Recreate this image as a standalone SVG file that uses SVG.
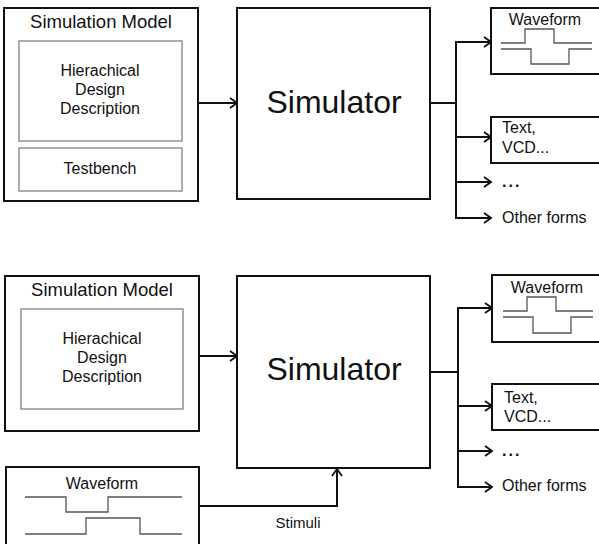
<svg xmlns="http://www.w3.org/2000/svg" width="599" height="544" viewBox="0 0 599 544">
<defs>
<style>
.box{fill:#fff;stroke:#111;stroke-width:2}
.inner{fill:#fff;stroke:#777;stroke-width:1.2}
.wire{fill:none;stroke:#111;stroke-width:2}
.wave{fill:none;stroke:#555;stroke-width:1.3}
text{font-family:"Liberation Sans",Arial,sans-serif;fill:#111}
.t18{font-size:18.5px}
.t16{font-size:16px}
.t15{font-size:15px}
.big{font-size:32px}
.mid{text-anchor:middle}
.dots{font-size:16px;font-weight:bold;letter-spacing:2px}
</style>
<marker id="arr" markerUnits="userSpaceOnUse" markerWidth="9" markerHeight="13" viewBox="0 0 9 13" refX="8" refY="6.5" orient="auto">
<path d="M1,1.5 L8,6.5 L1,11.5" fill="none" stroke="#111" stroke-width="1.8"/>
</marker>
</defs>
<rect width="599" height="544" fill="#fff"/>

<!-- TOP DIAGRAM -->
<g id="simmodel1">
<rect class="box" x="4" y="8" width="194" height="193"/>
<text class="t18 mid" x="101" y="28">Simulation Model</text>
</g>
<g id="hdd1">
<rect class="inner" x="19" y="41" width="163" height="100"/>
<text class="t16 mid" x="100" y="76">Hierachical</text>
<text class="t16 mid" x="100" y="95">Design</text>
<text class="t16 mid" x="100" y="114">Description</text>
</g>
<g id="testbench1">
<rect class="inner" x="19" y="148" width="163" height="43"/>
<text class="t16 mid" x="100" y="174">Testbench</text>
</g>
<g id="simulator1">
<rect class="box" x="237" y="8" width="193" height="191"/>
<text class="big mid" x="334" y="113">Simulator</text>
</g>
<g id="waveout1">
<rect class="box" x="491" y="8" width="112" height="66"/>
<text class="t16 mid" x="545" y="25">Waveform</text>
<polyline class="wave" points="501,43 525,43 525,29 554,29 554,43 592,43"/>
<polyline class="wave" points="501,49 531,49 531,64 569,64 569,49 592,49"/>
</g>
<g id="textout1">
<rect class="box" x="491" y="117" width="112" height="46"/>
<text class="t16" x="502" y="133">Text,</text>
<text class="t16" x="502" y="153">VCD...</text>
</g>
<g id="dots1">
<text class="dots" x="502" y="187">...</text>
</g>
<g id="other1">
<text class="t16" x="502" y="223">Other forms</text>
</g>

<!-- BOTTOM DIAGRAM -->
<g id="simmodel2">
<rect class="box" x="5" y="276" width="194" height="155"/>
<text class="t18 mid" x="102" y="296">Simulation Model</text>
</g>
<g id="hdd2">
<rect class="inner" x="21" y="309" width="162" height="100"/>
<text class="t16 mid" x="102" y="344">Hierachical</text>
<text class="t16 mid" x="102" y="363">Design</text>
<text class="t16 mid" x="102" y="382">Description</text>
</g>
<g id="stimwave">
<rect class="box" x="6" y="467" width="193" height="90"/>
<text class="t16 mid" x="102" y="489">Waveform</text>
<polyline class="wave" points="25,497 66,497 66,512 108,512 108,497 182,497"/>
<polyline class="wave" points="25,534 86,534 86,518 140,518 140,534 182,534"/>
</g>
<g id="simulator2">
<rect class="box" x="237" y="276" width="193" height="192"/>
<text class="big mid" x="334" y="380">Simulator</text>
</g>
<g id="waveout2">
<rect class="box" x="492" y="275" width="112" height="67"/>
<text class="t16 mid" x="547" y="293">Waveform</text>
<polyline class="wave" points="503,311 527,311 527,297 556,297 556,311 593,311"/>
<polyline class="wave" points="503,317 533,317 533,333 571,333 571,317 593,317"/>
</g>
<g id="textout2">
<rect class="box" x="492" y="384" width="112" height="46"/>
<text class="t16" x="504" y="403">Text,</text>
<text class="t16" x="504" y="422">VCD...</text>
</g>
<g id="dots2">
<text class="dots" x="502" y="456">...</text>
</g>
<g id="other2">
<text class="t16" x="502" y="491">Other forms</text>
</g>
<g id="stimlabel">
<text class="t15 mid" x="298" y="528">Stimuli</text>
</g>

<g id="connectors">
<line class="wire" x1="198" y1="103" x2="237" y2="103" marker-end="url(#arr)"/>
<line class="wire" x1="430" y1="103" x2="456" y2="103"/>
<polyline class="wire" points="456,42 456,218"/>
<line class="wire" x1="455" y1="42" x2="491" y2="42" marker-end="url(#arr)"/>
<line class="wire" x1="455" y1="137" x2="491" y2="137" marker-end="url(#arr)"/>
<line class="wire" x1="455" y1="182" x2="491" y2="182" marker-end="url(#arr)"/>
<line class="wire" x1="455" y1="218" x2="491" y2="218" marker-end="url(#arr)"/>

<line class="wire" x1="199" y1="356" x2="237" y2="356" marker-end="url(#arr)"/>
<line class="wire" x1="430" y1="372" x2="458" y2="372"/>
<polyline class="wire" points="458,308 458,487"/>
<line class="wire" x1="457" y1="308" x2="492" y2="308" marker-end="url(#arr)"/>
<line class="wire" x1="457" y1="406" x2="492" y2="406" marker-end="url(#arr)"/>
<line class="wire" x1="457" y1="451" x2="492" y2="451" marker-end="url(#arr)"/>
<line class="wire" x1="457" y1="487" x2="492" y2="487" marker-end="url(#arr)"/>
<polyline class="wire" points="199,506 337,506 337,469" marker-end="url(#arr)"/>
</g>
</svg>
